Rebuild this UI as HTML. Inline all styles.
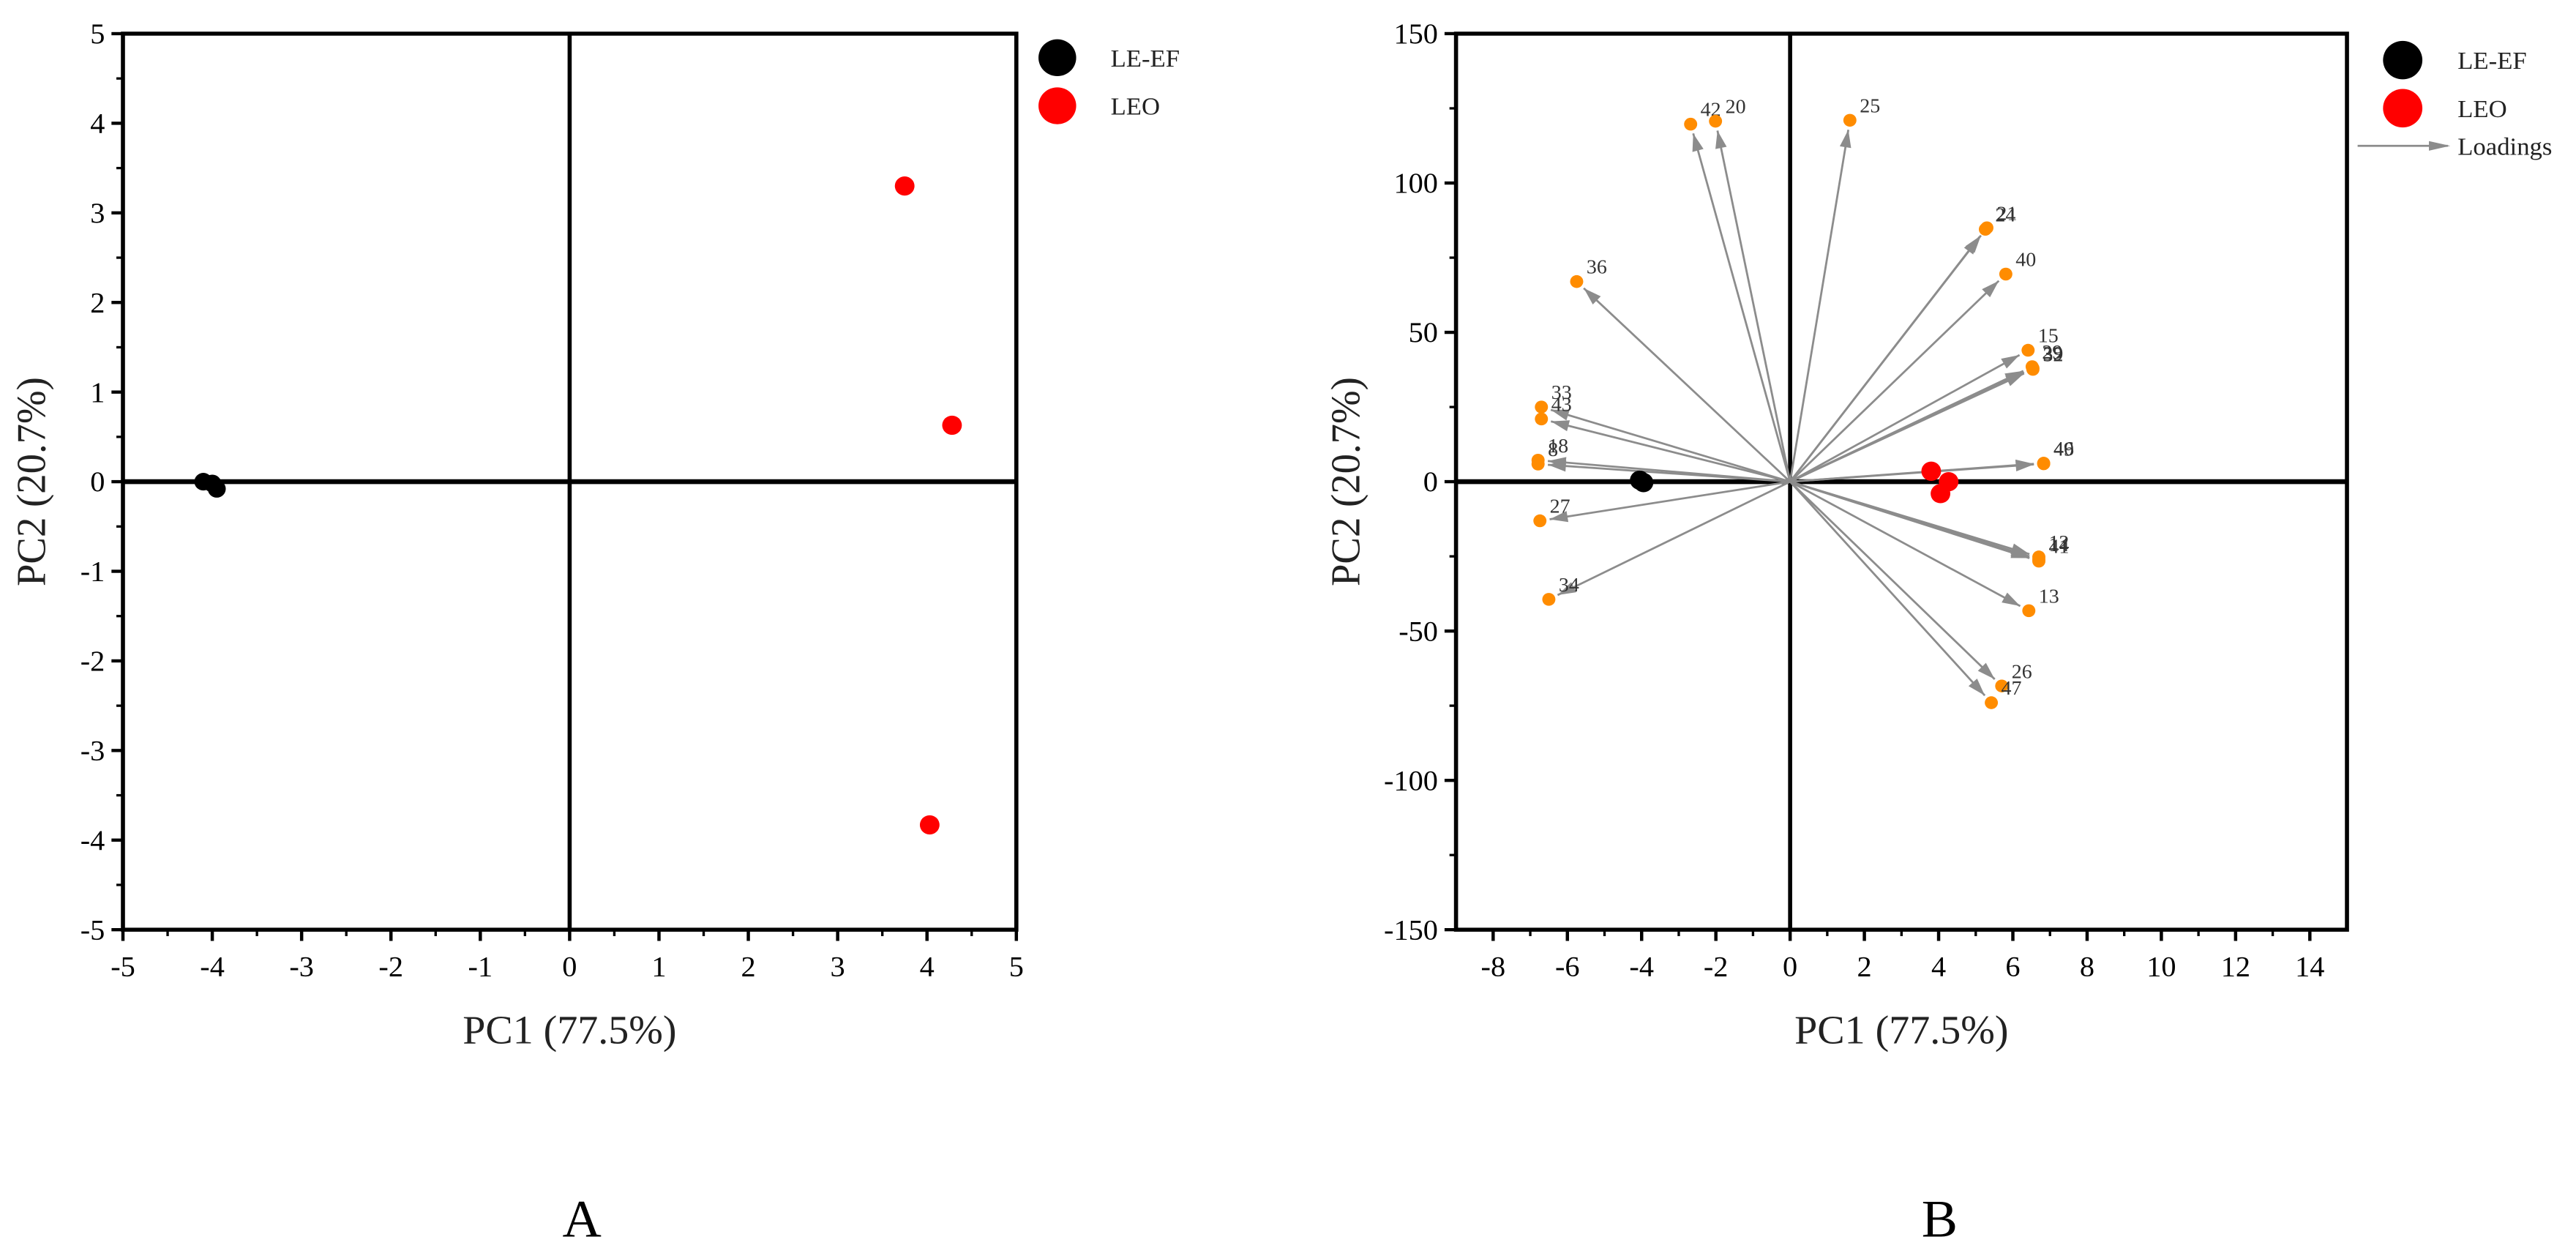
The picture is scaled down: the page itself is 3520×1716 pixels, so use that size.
<!DOCTYPE html>
<html><head><meta charset="utf-8"><style>
html,body{margin:0;padding:0;background:#fff}
svg{display:block}
text{font-family:"Liberation Serif",serif}
</style></head><body>
<svg id="c" width="3520" height="1716" xmlns="http://www.w3.org/2000/svg">
<g id="ga" transform="scale(1.12,1.095)"></g>
<g id="gb" transform="translate(1760,0) scale(1.12,1.095) translate(-1760,0)"></g>
</svg>
<script>
// Panel A data
const scoreBlackX=[-4.1,-4.0,-3.95];
const scoreBlackY=[0.0,-0.02,-0.08];
const scoreRedX=[3.75,4.28,4.03];
const scoreRedY=[3.3,0.63,-3.83];
const aTicks=[-5,-4,-3,-2,-1,0,1,2,3,4,5];
// Panel B data
const bBlackX=[-4.05,-3.95];
const bBlackY=[0.5,-0.3];
const bRedX=[3.8,4.27,4.05];
const bRedY=[3.5,0.0,-4.0];
const loadLabels=["42","20","25","24","21","40","15","29","39","32","46","49","12","14","41","13","26","47","34","27","18","8","33","43","36"];
const loadX=[-2.68,-2.01,1.61,5.26,5.3,5.81,6.41,6.52,6.54,6.54,6.83,6.83,6.70,6.70,6.70,6.43,5.70,5.42,-6.5,-6.74,-6.79,-6.79,-6.7,-6.7,-5.75];
const loadY=[119.7,120.7,121,84.5,85,69.5,44,38.5,38,37.6,6.2,6.0,-25.2,-26.0,-26.6,-43.2,-68.4,-74,-39.4,-13.1,7.2,5.9,25,21,67];
const bXTicks=[-8,-6,-4,-2,0,2,4,6,8,10,12,14];
const bYTicks=[-150,-100,-50,0,50,100,150];

const NS="http://www.w3.org/2000/svg";
function el(t,a,p){const e=document.createElementNS(NS,t);for(const k in a)e.setAttribute(k,a[k]);p.appendChild(e);return e;}
function txt(s,a,p){const e=el('text',a,p);e.textContent=s;return e;}

function panel(o){
  const g=el('g',{},o.parent);
  
  
  const sx=v=>o.L+(v-o.x0)/(o.x1-o.x0)*(o.R-o.L);
  const sy=v=>o.B-(v-o.y0)/(o.y1-o.y0)*(o.B-o.T);
  o.xt.forEach((v,i)=>{
    const x=sx(v);
    const t=el('line',{x1:x,y1:o.B,x2:x,y2:o.B+14,stroke:'#000','stroke-width':4},g);
    
    
    const l=txt(String(v),{x:x,y:o.B+58,'font-size':36,'text-anchor':'middle'},g);
    
    
    if(i<o.xt.length-1){const m=sx(v+(o.xt[1]-o.xt[0])/2);el('line',{x1:m,y1:o.B,x2:m,y2:o.B+8,stroke:'#000','stroke-width':3},g);}
  });
  o.yt.forEach((v,i)=>{
    const y=sy(v);
    const t=el('line',{x1:o.L-14,y1:y,x2:o.L,y2:y,stroke:'#000','stroke-width':4},g);
    
    
    const l=txt(String(v),{x:o.L-22,y:y+12,'font-size':36,'text-anchor':'end'},g);
    
    
    if(i<o.yt.length-1){const m=sy(v+(o.yt[1]-o.yt[0])/2);el('line',{x1:o.L-8,y1:m,x2:o.L,y2:m,stroke:'#000','stroke-width':3},g);}
  });
  el('line',{x1:sx(0),y1:o.T,x2:sx(0),y2:o.B,stroke:'#000','stroke-width':5},g);
  el('line',{x1:o.L,y1:sy(0),x2:o.R,y2:sy(0),stroke:'#000','stroke-width':6},g);
  const f=el('rect',{x:o.L,y:o.T,width:o.R-o.L,height:o.B-o.T,fill:'none',stroke:'#000','stroke-width':5},g);
  
  
  const xtT=txt('PC1 (77.5%)',{x:(o.L+o.R)/2,y:1302,'font-size':50,'text-anchor':'middle',fill:'#222'},g);
  
  
  const ytT=txt('PC2 (20.7%)',{x:0,y:0,'font-size':50,'text-anchor':'middle',fill:'#222',transform:`translate(${o.L-o.ytOff},${(o.T+o.B)/2}) rotate(-90)`},g);
  
  
  const pl=txt(o.letter,{x:o.letterX,y:1543,'font-size':66,'text-anchor':'middle'},g);
  
  
  return {g,sx,sy};
}

const A=panel({parent:document.getElementById('ga'),name:'panel-a',L:150,R:1240,T:42,B:1160,x0:-5,x1:5,y0:-5,y1:5,xt:aTicks,yt:aTicks,ytOff:95,letter:'A',letterX:710});
scoreRedX.forEach((v,i)=>{const c=el('circle',{cx:A.sx(v),cy:A.sy(scoreRedY[i]),r:12,fill:'#f00'},A.g);

});
scoreBlackX.forEach((v,i)=>{const c=el('circle',{cx:A.sx(v),cy:A.sy(scoreBlackY[i]),r:11,fill:'#000'},A.g);

});
[['#000','LE-EF',72],['#f00','LEO',132]].forEach(d=>{
  const c=el('circle',{cx:1290,cy:d[2],r:23,fill:d[0]},A.g);
  
  
  const t=txt(d[1],{x:1355,y:d[2]+11,'font-size':31,fill:'#222'},A.g);
  
  
});

const B=panel({parent:document.getElementById('gb'),name:'panel-b',L:1965,R:3052,T:42,B:1160,x0:-9,x1:15,y0:-150,y1:150,xt:bXTicks,yt:bYTicks,ytOff:118,letter:'B',letterX:2555});
loadX.forEach((v,i)=>{
  const x0=B.sx(0),y0=B.sy(0),x=B.sx(v),y=B.sy(loadY[i]);
  const dx=x-x0,dy=y-y0,len=Math.hypot(dx,dy),ux=dx/len,uy=dy/len;
  const tipx=x-ux*12,tipy=y-uy*12;
  const ln=el('line',{x1:x0,y1:y0,x2:tipx,y2:tipy,stroke:'#8c8c8c','stroke-width':2.5},B.g);
  
  
  const bx=tipx-ux*22,by=tipy-uy*22,px=-uy*7,py=ux*7;
  el('polygon',{points:`${tipx},${tipy} ${bx+px},${by+py} ${bx-px},${by-py}`,fill:'#8c8c8c'},B.g);
});
loadX.forEach((v,i)=>{
  const x=B.sx(v),y=B.sy(loadY[i]);
  const c=el('circle',{cx:x,cy:y,r:8,fill:'#ff8c00'},B.g);
  
  
  const t=txt(loadLabels[i],{x:x+12,y:y-10,'font-size':25,fill:'#333'},B.g);
  
  
});
bBlackX.forEach((v,i)=>{const c=el('circle',{cx:B.sx(v),cy:B.sy(bBlackY[i]),r:12,fill:'#000'},B.g);

});
bRedX.forEach((v,i)=>{const c=el('circle',{cx:B.sx(v),cy:B.sy(bRedY[i]),r:12,fill:'#f00'},B.g);

});
[['#000','LE-EF',75],['#f00','LEO',135]].forEach(d=>{
  const c=el('circle',{cx:3120,cy:d[2],r:24,fill:d[0]},B.g);
  
  
  const t=txt(d[1],{x:3187,y:d[2]+11,'font-size':31,fill:'#222'},B.g);
  
  
});
el('line',{x1:3065,y1:182,x2:3175,y2:182,stroke:'#8c8c8c','stroke-width':2.5},B.g);
el('polygon',{points:'3178,182 3152,176 3152,188',fill:'#8c8c8c'},B.g);
const lt=txt('Loadings',{x:3187,y:193,'font-size':31,fill:'#222'},B.g);


</script>
</body></html>
